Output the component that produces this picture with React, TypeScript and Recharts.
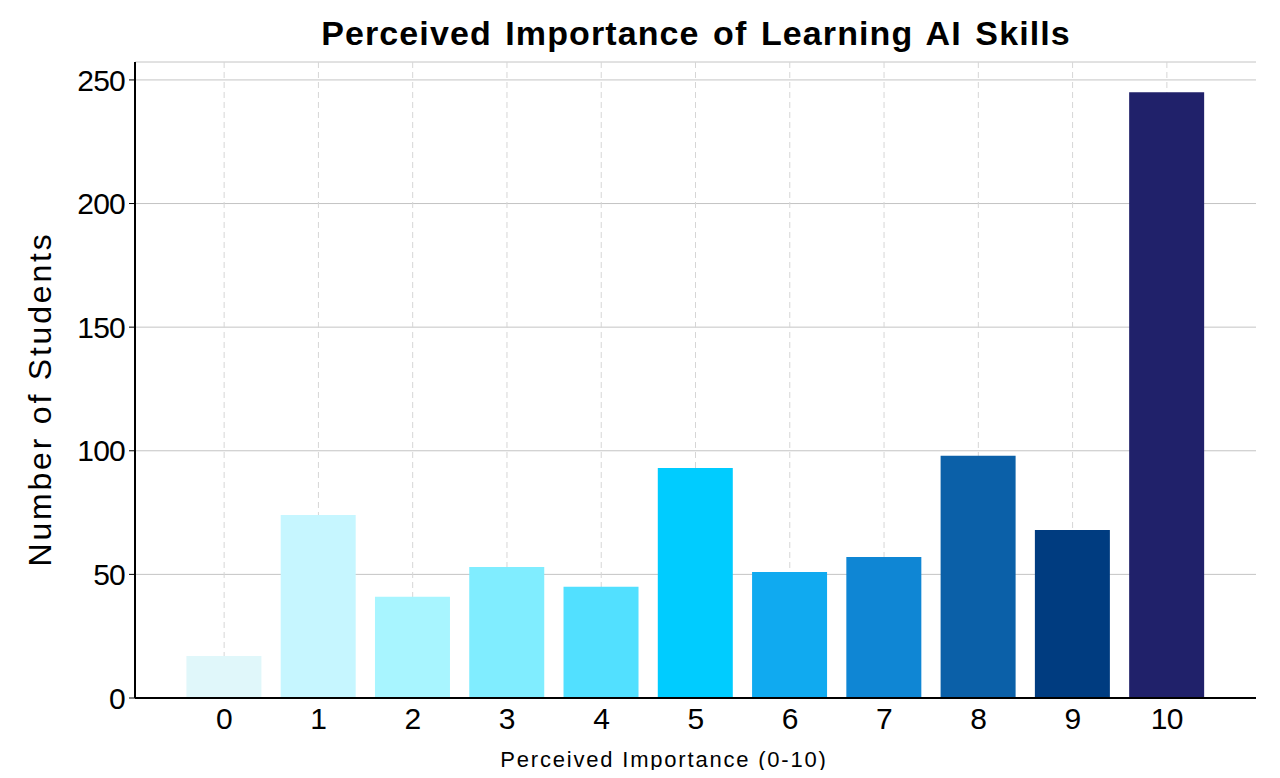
import React from "react";
import { BarChart, Bar, XAxis, YAxis, CartesianGrid, Cell } from "recharts";

const ratings = ["0", "1", "2", "3", "4", "5", "6", "7", "8", "9", "10"];
const students = [17, 74, 41, 53, 45, 93, 51, 57, 98, 68, 245];
const barColors = [
	"#e0f7fa",
	"#c6f6ff",
	"#a8f5ff",
	"#80edff",
	"#52e0ff",
	"#00ccff",
	"#10aaf0",
	"#0f86d4",
	"#0b60a8",
	"#003c80",
	"#20216a",
];
const yTicks = [0, 50, 100, 150, 200, 250];

const data = ratings.map((r, i) => ({ rating: r, count: students[i] }));

const font = "'Liberation Sans', Arial, Helvetica, sans-serif";
const xPad = 42;

// vertical grid only at the category centres (no line at the plot edges)
const categoryCentres = ({ offset }: any) => {
	const left = offset.left + xPad;
	const band = (offset.width - 2 * xPad) / ratings.length;
	return ratings.map((_, i) => left + band * (i + 0.5));
};

export default function App() {
	return (
		<div
			style={{
				position: "relative",
				width: 1280,
				height: 778,
				margin: -8,
				background: "#fff",
				fontFamily: font,
			}}
		>
			<div
				style={{
					position: "absolute",
					left: 696,
					top: 14,
					transform: "translateX(-50%)",
					whiteSpace: "nowrap",
					fontSize: 34,
					fontWeight: "bold",
					letterSpacing: 1.1,
					wordSpacing: 3,
					color: "#000",
				}}
			>
				Perceived Importance of Learning AI Skills
			</div>
			<div
				style={{
					position: "absolute",
					left: 40,
					top: 399,
					transform: "translate(-50%, -50%) rotate(-90deg)",
					whiteSpace: "nowrap",
					fontSize: 32,
					letterSpacing: 2.8,
					color: "#000",
				}}
			>
				Number of Students
			</div>
			<div
				style={{
					position: "absolute",
					left: 664,
					top: 760,
					transform: "translate(-50%, -50%)",
					whiteSpace: "nowrap",
					fontSize: 22,
					letterSpacing: 1.8,
					color: "#000",
				}}
			>
				Perceived Importance (0-10)
			</div>
			<BarChart
				width={1280}
				height={778}
				data={data}
				margin={{ top: 62, right: 24, bottom: 0, left: 0 }}
				barCategoryGap="10%"
			>
				<CartesianGrid
					horizontal={true}
					vertical={false}
					stroke="#c4c4c4"
				/>
				<CartesianGrid
					horizontal={false}
					vertical={true}
					stroke="#d6d6d6"
					strokeDasharray="6 4"
					verticalCoordinatesGenerator={categoryCentres}
				/>
				<XAxis
					dataKey="rating"
					height={80}
					padding={{ left: xPad, right: xPad }}
					tickLine={false}
					tickSize={6}
					tickMargin={4}
					axisLine={{ stroke: "#000", strokeWidth: 2 }}
					tick={{ fill: "#000", fontSize: 30, fontFamily: font, letterSpacing: -0.5 }}
				/>
				<YAxis
					width={135}
					domain={[0, 257.25]}
					ticks={yTicks}
					tickSize={6}
					tickMargin={4}
					tickLine={{ stroke: "#000" }}
					axisLine={{ stroke: "#000", strokeWidth: 2 }}
					tick={{ fill: "#000", fontSize: 30, fontFamily: font, letterSpacing: -0.8 }}
				/>
				<Bar dataKey="count" isAnimationActive={false}>
					{data.map((d, i) => (
						<Cell key={d.rating} fill={barColors[i]} />
					))}
				</Bar>
			</BarChart>
		</div>
	);
}
